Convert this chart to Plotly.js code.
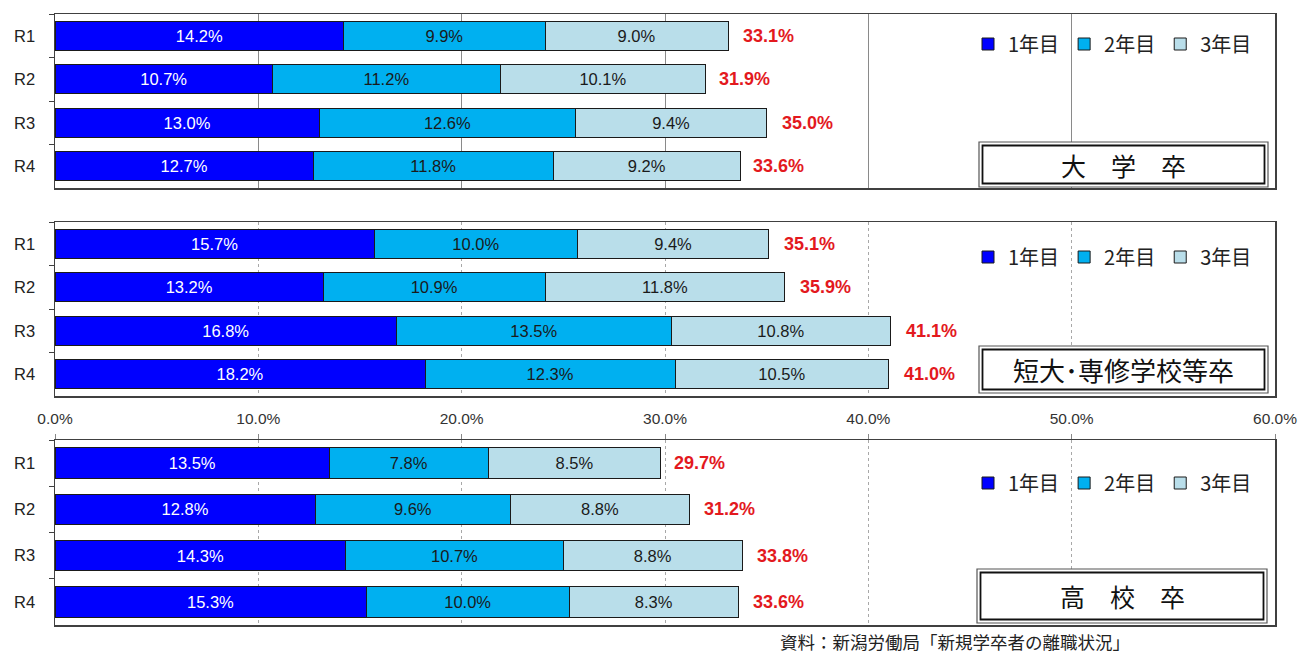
<!DOCTYPE html>
<html>
<head>
<meta charset="utf-8">
<script src="https://cdn.plot.ly/plotly-3.0.1.min.js"></script>
<style>
html,body{margin:0;padding:0;background:#fff;}
#chart{width:1299px;height:654px;}
</style>
</head>
<body>
<div id="chart"></div>
<script>
// ---- data ----
const categories = ["R1", "R2", "R3", "R4"];
const seriesNames = ["1年目", "2年目", "3年目"];
const panelTitles = ["大　学　卒", "短大･専修学校等卒", "高　校　卒"];

const univ_year1 = [14.2, 10.7, 13.0, 12.7];
const univ_year2 = [9.9, 11.2, 12.6, 11.8];
const univ_year3 = [9.0, 10.1, 9.4, 9.2];
const univ_total = [33.1, 31.9, 35.0, 33.6];

const junior_year1 = [15.7, 13.2, 16.8, 18.2];
const junior_year2 = [10.0, 10.9, 13.5, 12.3];
const junior_year3 = [9.4, 11.8, 10.8, 10.5];
const junior_total = [35.1, 35.9, 41.1, 41.0];

const high_year1 = [13.5, 12.8, 14.3, 15.3];
const high_year2 = [7.8, 9.6, 10.7, 10.0];
const high_year3 = [8.5, 8.8, 8.8, 8.3];
const high_total = [29.7, 31.2, 33.8, 33.6];

const xTickVals = [0, 10, 20, 30, 40, 50, 60];
const sourceText = "資料：新潟労働局「新規学卒者の離職状況」";

// ---- styling ----
const colors = ["#0000FF", "#00B0F0", "#B9DEEA"];
const numFont = "Liberation Sans, Arial, sans-serif";
const jpFont = "Noto Sans CJK JP, sans-serif";

const panels = [
  {series: [univ_year1, univ_year2, univ_year3], total: univ_total},
  {series: [junior_year1, junior_year2, junior_year3], total: junior_total},
  {series: [high_year1, high_year2, high_year3], total: high_total}
];

// pixel helpers (plot area: x 55..1275, y 14..625)
const L = 55, R = 1275, T = 14, B = 625;
const px = x => (x - L) / (R - L);
const py = y => (B - y) / (B - T);

const domains = [[py(188), py(14)], [py(396), py(222)], [py(625), py(440)]];
const legendY = [py(44), py(257), py(483)];
const boxes = [[979, 142, 1268, 187], [979, 346, 1268, 393], [977, 569, 1267, 623]];
const boxFont = [25, 26, 25];

const traces = [];
const annotations = [];
const shapes = [];
const layout = {
  width: 1299, height: 654,
  margin: {l: L, r: 1299 - R, t: T, b: 654 - B},
  paper_bgcolor: "#fff", plot_bgcolor: "#fff",
  barmode: "stack", bargap: 0.34,
  showlegend: true,
  font: {family: numFont, color: "#222"}
};

panels.forEach((p, i) => {
  const sfx = i === 0 ? "" : String(i + 1);
  const xa = "x" + sfx, ya = "y" + sfx;
  const lg = "legend" + sfx;
  p.series.forEach((vals, s) => {
    traces.push({
      type: "bar", orientation: "h",
      x: vals, y: categories,
      xaxis: xa, yaxis: ya,
      name: seriesNames[s], legend: lg,
      marker: {color: colors[s], line: {color: "#1a1a1a", width: 1}},
      text: vals.map(v => v.toFixed(1) + "%"),
      textposition: "inside", insidetextanchor: "middle", textangle: 0,
      constraintext: "none",
      textfont: {family: numFont, size: 16.5, color: s === 0 ? "#ffffff" : "#1a1a1a"},
      hoverinfo: "skip"
    });
  });
  p.total.forEach((t, k) => {
    annotations.push({
      x: t, y: categories[k], xref: xa, yref: ya,
      xanchor: "left", yanchor: "middle", xshift: 13, showarrow: false,
      text: "<b>" + t.toFixed(1) + "%</b>",
      font: {family: numFont, size: 18, color: "#E3191E"}
    });
  });
  const dashed = i > 0;
  layout["xaxis" + sfx] = {
    domain: [0, 1], anchor: ya, range: [0, 60],
    tickvals: xTickVals,
    ticktext: xTickVals.map(v => v.toFixed(1) + "%"),
    showticklabels: i === 1,
    ticks: i === 2 ? "outside" : "", side: i === 2 ? "top" : "bottom",
    ticklen: 5, tickcolor: "#888",
    ticklabelstandoff: 8,
    tickfont: {family: numFont, size: 15.5, color: "#333"},
    showgrid: true, gridcolor: dashed ? "#A8A8A8" : "#8A8A8A", gridwidth: 1,
    griddash: dashed ? "dot" : "solid",
    showline: true, mirror: true, linecolor: "#404040", linewidth: 1.5,
    zeroline: false, fixedrange: true
  };
  layout["yaxis" + sfx] = {
    domain: domains[i], anchor: xa,
    type: "category", categoryarray: categories, autorange: "reversed",
    ticks: "outside", tickson: "boundaries", ticklen: 5, tickcolor: "#404040",
    tickfont: {family: numFont, size: 16.5, color: "#222"},
    ticklabelstandoff: 15,
    showgrid: false,
    showline: true, mirror: true, linecolor: "#404040", linewidth: 1.5,
    zeroline: false, fixedrange: true
  };
  layout[lg] = {
    orientation: "h", x: px(968), y: legendY[i], xanchor: "left", yanchor: "middle",
    bgcolor: "rgba(0,0,0,0)", borderwidth: 0,
    font: {family: jpFont, size: 20, color: "#222"},
    itemwidth: 30, tracegroupgap: 0, traceorder: "normal"
  };
  // double-bordered label box
  const b = boxes[i];
  shapes.push({type: "rect", xref: "paper", yref: "paper",
    x0: px(b[0]), x1: px(b[2]), y0: py(b[3]), y1: py(b[1]),
    line: {color: "#555", width: 1.2}, fillcolor: "#ffffff", layer: "above"});
  shapes.push({type: "rect", xref: "paper", yref: "paper",
    x0: px(b[0] + 3.5), x1: px(b[2] - 3.5), y0: py(b[3] - 3.5), y1: py(b[1] + 3.5),
    line: {color: "#111", width: 1.8}, fillcolor: "rgba(0,0,0,0)", layer: "above"});
  annotations.push({
    xref: "paper", yref: "paper", x: px((b[0] + b[2]) / 2), y: py((b[1] + b[3]) / 2),
    xanchor: "center", yanchor: "middle", showarrow: false,
    text: panelTitles[i], font: {family: jpFont, size: boxFont[i], color: "#111"}
  });
});

annotations.push({
  xref: "paper", yref: "paper", x: px(955), y: py(641),
  xanchor: "center", yanchor: "middle", showarrow: false,
  text: sourceText, font: {family: jpFont, size: 17.5, color: "#222"}
});

layout.annotations = annotations;
layout.shapes = shapes;

Plotly.newPlot("chart", traces, layout, {staticPlot: true, displayModeBar: false});
</script>
</body>
</html>
